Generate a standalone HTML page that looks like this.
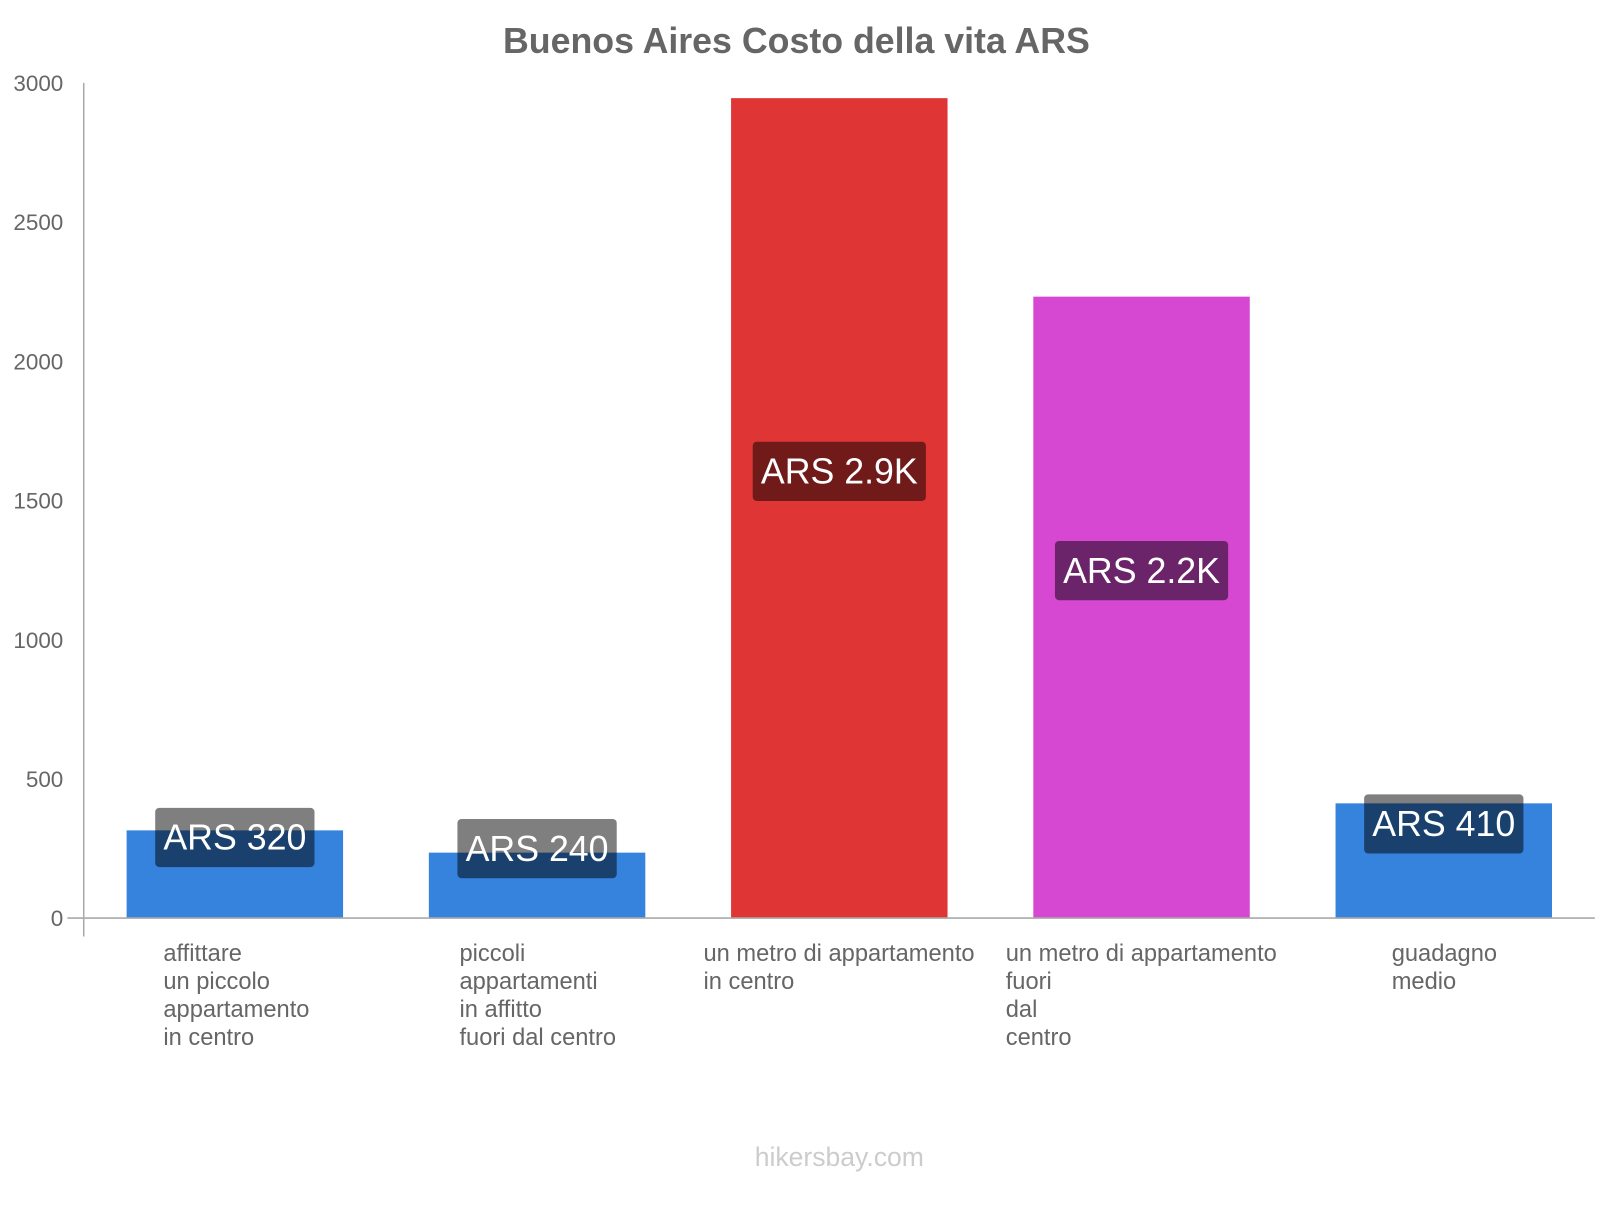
<!DOCTYPE html>
<html><head><meta charset="utf-8"><style>
body{margin:0;background:#fff;width:1600px;height:1200px;overflow:hidden;font-family:"Liberation Sans",sans-serif}
svg text{font-family:"Liberation Sans",sans-serif}
</style></head><body>
<svg id="chart" width="1600" height="1200" viewBox="0 0 1567 1175">
<text x="780" y="52" text-anchor="middle" font-size="35" font-weight="bold" fill="#666">Buenos Aires Costo della vita ARS</text>
<text x="822" y="1142" text-anchor="middle" font-size="26" fill="#ccc">hikersbay.com</text>
</svg>
<script>
const categories=[["affittare","un piccolo","appartamento","in centro"],["piccoli","appartamenti","in affitto","fuori dal centro"],["un metro di appartamento","in centro"],["un metro di appartamento","fuori","dal","centro"],["guadagno","medio"]];
const values=[315,235,2945,2232,412];
const valueLabels=["ARS 320","ARS 240","ARS 2.9K","ARS 2.2K","ARS 410"];
const colors=["#3583dd","#3583dd","#e03535","#d748d2","#3583dd"];
const ticks=[0,500,1000,1500,2000,2500,3000];
const labelX=[160,450,689,985,1363];
const svg=document.getElementById('chart');
const NS='http://www.w3.org/2000/svg';
const y0=899,yTop=81,maxV=3000;
const y=v=>y0-(v/maxV)*(y0-yTop);
const bx=i=>124+i*296, bw=212;
function mk(t,a){const e=document.createElementNS(NS,t);for(const k in a)e.setAttribute(k,a[k]);svg.appendChild(e);return e;}
ticks.forEach(t=>{
 const tx=mk('text',{x:62,y:y(t)+8,'text-anchor':'end','font-size':22,fill:'#666'});
 tx.textContent=t;
 
 
});
const tm=mk('line',{x1:66,x2:82,y1:y0,y2:y0,stroke:'#aaa','stroke-width':1.5});


values.forEach((v,i)=>{
 const r=mk('rect',{x:bx(i),y:y(v),width:bw,height:y0-y(v),fill:colors[i]});
 
 
});
const ya=mk('line',{x1:82,x2:82,y1:yTop,y2:917,stroke:'#aaa','stroke-width':1.5});


const xa=mk('line',{x1:82,x2:1562,y1:y0,y2:y0,stroke:'#aaa','stroke-width':1.5});


values.forEach((v,i)=>{
 const cx=bx(i)+bw/2, cy=(y(v)+y0)/2-36;
 const g=document.createElementNS(NS,'g');svg.appendChild(g);
 
 
 const t=document.createElementNS(NS,'text');
 t.setAttribute('x',cx);t.setAttribute('y',cy+12);t.setAttribute('text-anchor','middle');
 t.setAttribute('font-size',35);t.setAttribute('fill','#fff');t.textContent=valueLabels[i];
 const r=document.createElementNS(NS,'rect');
 g.appendChild(r);g.appendChild(t);
 const w=t.getComputedTextLength()+16;
 r.setAttribute('x',cx-w/2);r.setAttribute('y',cy-29);r.setAttribute('width',w);r.setAttribute('height',58);
 r.setAttribute('rx',4);r.setAttribute('fill','rgba(0,0,0,0.5)');
});
categories.forEach((lines,i)=>{
 lines.forEach((ln,j)=>{
  const t=mk('text',{x:labelX[i],y:941+j*27.5,'font-size':23.2,fill:'#666'});
  t.textContent=ln;
  
  
 });
});
</script>
</body></html>
